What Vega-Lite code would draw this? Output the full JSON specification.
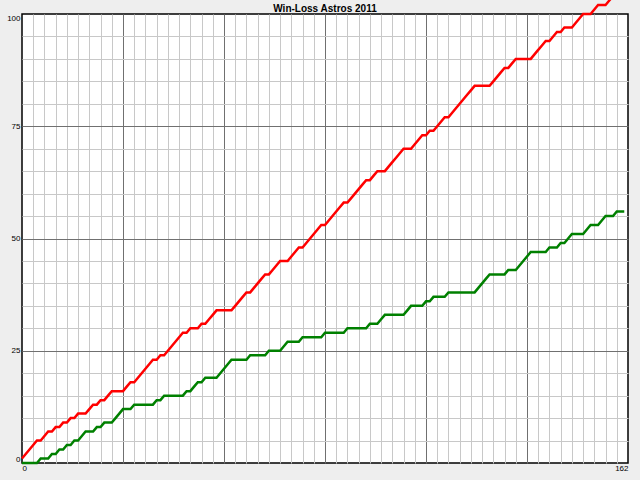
{
  "$schema": "https://vega.github.io/schema/vega-lite/v6.json",
  "width": 606,
  "height": 449,
  "autosize": {"type": "none"},
  "padding": {"left": 22, "top": 14, "right": 12, "bottom": 17},
  "background": "#eeeeee",
  "title": {
    "text": "Win-Loss Astros 2011",
    "font": "Liberation Sans",
    "fontSize": 10,
    "fontWeight": "bold",
    "color": "black",
    "anchor": "middle",
    "baseline": "alphabetic",
    "offset": -40
  },
  "data": {
    "values": [
      {"game": 0, "wins": 0, "losses": 1},
      {"game": 1, "wins": 0, "losses": 2},
      {"game": 2, "wins": 0, "losses": 3},
      {"game": 3, "wins": 0, "losses": 4},
      {"game": 4, "wins": 0, "losses": 5},
      {"game": 5, "wins": 1, "losses": 5},
      {"game": 6, "wins": 1, "losses": 6},
      {"game": 7, "wins": 1, "losses": 7},
      {"game": 8, "wins": 2, "losses": 7},
      {"game": 9, "wins": 2, "losses": 8},
      {"game": 10, "wins": 3, "losses": 8},
      {"game": 11, "wins": 3, "losses": 9},
      {"game": 12, "wins": 4, "losses": 9},
      {"game": 13, "wins": 4, "losses": 10},
      {"game": 14, "wins": 5, "losses": 10},
      {"game": 15, "wins": 5, "losses": 11},
      {"game": 16, "wins": 6, "losses": 11},
      {"game": 17, "wins": 7, "losses": 11},
      {"game": 18, "wins": 7, "losses": 12},
      {"game": 19, "wins": 7, "losses": 13},
      {"game": 20, "wins": 8, "losses": 13},
      {"game": 21, "wins": 8, "losses": 14},
      {"game": 22, "wins": 9, "losses": 14},
      {"game": 23, "wins": 9, "losses": 15},
      {"game": 24, "wins": 9, "losses": 16},
      {"game": 25, "wins": 10, "losses": 16},
      {"game": 26, "wins": 11, "losses": 16},
      {"game": 27, "wins": 12, "losses": 16},
      {"game": 28, "wins": 12, "losses": 17},
      {"game": 29, "wins": 12, "losses": 18},
      {"game": 30, "wins": 13, "losses": 18},
      {"game": 31, "wins": 13, "losses": 19},
      {"game": 32, "wins": 13, "losses": 20},
      {"game": 33, "wins": 13, "losses": 21},
      {"game": 34, "wins": 13, "losses": 22},
      {"game": 35, "wins": 13, "losses": 23},
      {"game": 36, "wins": 14, "losses": 23},
      {"game": 37, "wins": 14, "losses": 24},
      {"game": 38, "wins": 15, "losses": 24},
      {"game": 39, "wins": 15, "losses": 25},
      {"game": 40, "wins": 15, "losses": 26},
      {"game": 41, "wins": 15, "losses": 27},
      {"game": 42, "wins": 15, "losses": 28},
      {"game": 43, "wins": 15, "losses": 29},
      {"game": 44, "wins": 16, "losses": 29},
      {"game": 45, "wins": 16, "losses": 30},
      {"game": 46, "wins": 17, "losses": 30},
      {"game": 47, "wins": 18, "losses": 30},
      {"game": 48, "wins": 18, "losses": 31},
      {"game": 49, "wins": 19, "losses": 31},
      {"game": 50, "wins": 19, "losses": 32},
      {"game": 51, "wins": 19, "losses": 33},
      {"game": 52, "wins": 19, "losses": 34},
      {"game": 53, "wins": 20, "losses": 34},
      {"game": 54, "wins": 21, "losses": 34},
      {"game": 55, "wins": 22, "losses": 34},
      {"game": 56, "wins": 23, "losses": 34},
      {"game": 57, "wins": 23, "losses": 35},
      {"game": 58, "wins": 23, "losses": 36},
      {"game": 59, "wins": 23, "losses": 37},
      {"game": 60, "wins": 23, "losses": 38},
      {"game": 61, "wins": 24, "losses": 38},
      {"game": 62, "wins": 24, "losses": 39},
      {"game": 63, "wins": 24, "losses": 40},
      {"game": 64, "wins": 24, "losses": 41},
      {"game": 65, "wins": 24, "losses": 42},
      {"game": 66, "wins": 25, "losses": 42},
      {"game": 67, "wins": 25, "losses": 43},
      {"game": 68, "wins": 25, "losses": 44},
      {"game": 69, "wins": 25, "losses": 45},
      {"game": 70, "wins": 26, "losses": 45},
      {"game": 71, "wins": 27, "losses": 45},
      {"game": 72, "wins": 27, "losses": 46},
      {"game": 73, "wins": 27, "losses": 47},
      {"game": 74, "wins": 27, "losses": 48},
      {"game": 75, "wins": 28, "losses": 48},
      {"game": 76, "wins": 28, "losses": 49},
      {"game": 77, "wins": 28, "losses": 50},
      {"game": 78, "wins": 28, "losses": 51},
      {"game": 79, "wins": 28, "losses": 52},
      {"game": 80, "wins": 28, "losses": 53},
      {"game": 81, "wins": 29, "losses": 53},
      {"game": 82, "wins": 29, "losses": 54},
      {"game": 83, "wins": 29, "losses": 55},
      {"game": 84, "wins": 29, "losses": 56},
      {"game": 85, "wins": 29, "losses": 57},
      {"game": 86, "wins": 29, "losses": 58},
      {"game": 87, "wins": 30, "losses": 58},
      {"game": 88, "wins": 30, "losses": 59},
      {"game": 89, "wins": 30, "losses": 60},
      {"game": 90, "wins": 30, "losses": 61},
      {"game": 91, "wins": 30, "losses": 62},
      {"game": 92, "wins": 30, "losses": 63},
      {"game": 93, "wins": 31, "losses": 63},
      {"game": 94, "wins": 31, "losses": 64},
      {"game": 95, "wins": 31, "losses": 65},
      {"game": 96, "wins": 32, "losses": 65},
      {"game": 97, "wins": 33, "losses": 65},
      {"game": 98, "wins": 33, "losses": 66},
      {"game": 99, "wins": 33, "losses": 67},
      {"game": 100, "wins": 33, "losses": 68},
      {"game": 101, "wins": 33, "losses": 69},
      {"game": 102, "wins": 33, "losses": 70},
      {"game": 103, "wins": 34, "losses": 70},
      {"game": 104, "wins": 35, "losses": 70},
      {"game": 105, "wins": 35, "losses": 71},
      {"game": 106, "wins": 35, "losses": 72},
      {"game": 107, "wins": 35, "losses": 73},
      {"game": 108, "wins": 36, "losses": 73},
      {"game": 109, "wins": 36, "losses": 74},
      {"game": 110, "wins": 37, "losses": 74},
      {"game": 111, "wins": 37, "losses": 75},
      {"game": 112, "wins": 37, "losses": 76},
      {"game": 113, "wins": 37, "losses": 77},
      {"game": 114, "wins": 38, "losses": 77},
      {"game": 115, "wins": 38, "losses": 78},
      {"game": 116, "wins": 38, "losses": 79},
      {"game": 117, "wins": 38, "losses": 80},
      {"game": 118, "wins": 38, "losses": 81},
      {"game": 119, "wins": 38, "losses": 82},
      {"game": 120, "wins": 38, "losses": 83},
      {"game": 121, "wins": 38, "losses": 84},
      {"game": 122, "wins": 39, "losses": 84},
      {"game": 123, "wins": 40, "losses": 84},
      {"game": 124, "wins": 41, "losses": 84},
      {"game": 125, "wins": 42, "losses": 84},
      {"game": 126, "wins": 42, "losses": 85},
      {"game": 127, "wins": 42, "losses": 86},
      {"game": 128, "wins": 42, "losses": 87},
      {"game": 129, "wins": 42, "losses": 88},
      {"game": 130, "wins": 43, "losses": 88},
      {"game": 131, "wins": 43, "losses": 89},
      {"game": 132, "wins": 43, "losses": 90},
      {"game": 133, "wins": 44, "losses": 90},
      {"game": 134, "wins": 45, "losses": 90},
      {"game": 135, "wins": 46, "losses": 90},
      {"game": 136, "wins": 47, "losses": 90},
      {"game": 137, "wins": 47, "losses": 91},
      {"game": 138, "wins": 47, "losses": 92},
      {"game": 139, "wins": 47, "losses": 93},
      {"game": 140, "wins": 47, "losses": 94},
      {"game": 141, "wins": 48, "losses": 94},
      {"game": 142, "wins": 48, "losses": 95},
      {"game": 143, "wins": 48, "losses": 96},
      {"game": 144, "wins": 49, "losses": 96},
      {"game": 145, "wins": 49, "losses": 97},
      {"game": 146, "wins": 50, "losses": 97},
      {"game": 147, "wins": 51, "losses": 97},
      {"game": 148, "wins": 51, "losses": 98},
      {"game": 149, "wins": 51, "losses": 99},
      {"game": 150, "wins": 51, "losses": 100},
      {"game": 151, "wins": 52, "losses": 100},
      {"game": 152, "wins": 53, "losses": 100},
      {"game": 153, "wins": 53, "losses": 101},
      {"game": 154, "wins": 53, "losses": 102},
      {"game": 155, "wins": 54, "losses": 102},
      {"game": 156, "wins": 55, "losses": 102},
      {"game": 157, "wins": 55, "losses": 103},
      {"game": 158, "wins": 55, "losses": 104},
      {"game": 159, "wins": 56, "losses": 104},
      {"game": 160, "wins": 56, "losses": 105},
      {"game": 161, "wins": 56, "losses": 106}
    ]
  },
  "transform": [
    {"fold": ["losses", "wins"], "as": ["series", "count"]}
  ],
  "mark": {"type": "line", "strokeWidth": 2.5},
  "encoding": {
    "x": {
      "field": "game",
      "type": "quantitative",
      "scale": {"domain": [0, 162], "nice": false, "zero": false},
      "axis": {
        "title": null,
        "values": [0, 3, 6, 9, 12, 15, 18, 21, 24, 27, 30, 33, 36, 39, 42, 45, 48, 51, 54, 57, 60, 63, 66, 69, 72, 75, 78, 81, 84, 87, 90, 93, 96, 99, 102, 105, 108, 111, 114, 117, 120, 123, 126, 129, 132, 135, 138, 141, 144, 147, 150, 153, 156, 159, 162],
        "labelExpr": "datum.value === 0 || datum.value === 162 ? datum.label : ''",
        "labelFlush": true,
        "labelOverlap": false,
        "labelPadding": 1,
        "ticks": false,
        "tickSize": 0,
        "domain": false,
        "grid": true,
        "gridColor": {"condition": {"test": "datum.value % 27 === 0", "value": "#707070"}, "value": "#c8c8c8"},
        "gridOpacity": {"condition": {"test": "datum.value === 0 || datum.value === 162", "value": 0}, "value": 1}
      }
    },
    "y": {
      "field": "count",
      "type": "quantitative",
      "scale": {"domain": [0, 100], "nice": false},
      "axis": {
        "title": null,
        "values": [0, 5, 10, 15, 20, 25, 30, 35, 40, 45, 50, 55, 60, 65, 70, 75, 80, 85, 90, 95, 100],
        "labelExpr": "datum.value % 25 === 0 ? datum.label : ''",
        "labelFlush": true,
        "labelOverlap": false,
        "labelPadding": 2,
        "ticks": false,
        "tickSize": 0,
        "domain": false,
        "grid": true,
        "gridColor": {"condition": {"test": "datum.value % 25 === 0", "value": "#707070"}, "value": "#c8c8c8"},
        "gridOpacity": {"condition": {"test": "datum.value === 0 || datum.value === 100", "value": 0}, "value": 1}
      }
    },
    "color": {
      "field": "series",
      "type": "nominal",
      "scale": {"domain": ["losses", "wins"], "range": ["#ff0000", "#008000"]},
      "legend": null
    }
  },
  "config": {
    "view": {"fill": "white", "stroke": "black", "strokeWidth": 1.5},
    "axis": {
      "labelFont": "Liberation Sans",
      "labelFontSize": 8,
      "labelColor": "black",
      "gridWidth": 1
    }
  }
}
